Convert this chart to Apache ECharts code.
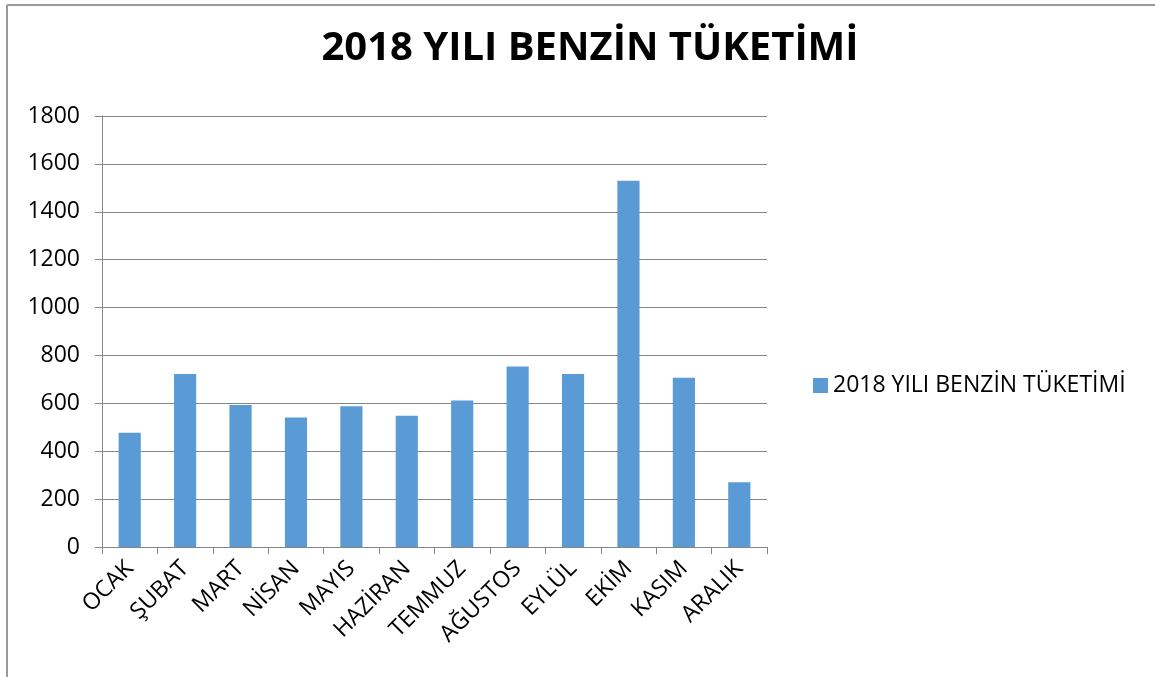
<!DOCTYPE html>
<html>
<head>
<meta charset="utf-8">
<script src="https://cdn.jsdelivr.net/npm/echarts@6/dist/echarts.min.js"></script>
<style>
  html, body { margin: 0; padding: 0; background: #fff; }
  #main { width: 1155px; height: 677px; }
</style>
</head>
<body>
<div id="main"></div>
<script>
// aylar ve tüketim değerleri
var aylar = ['OCAK', 'ŞUBAT', 'MART', 'NİSAN', 'MAYIS', 'HAZİRAN', 'TEMMUZ', 'AĞUSTOS', 'EYLÜL', 'EKİM', 'KASIM', 'ARALIK'];
var tuketim = [477, 723, 593, 541, 588, 548, 612, 754, 723, 1530, 707, 270];
var seriAdi = '2018 YILI BENZİN TÜKETİMİ';

(function(){

    var myChart = echarts.init(document.getElementById('main'));
    var font = 'Open Sans';

    var option = {
        animation: false,
        title: {
            text: seriAdi,
            left: 585,
            textAlign: 'center',
            top: 24,
            textStyle: {
                fontFamily: font,
                fontSize: 40,
                fontWeight: 'bold',
                color: '#000'
            }
        },
        legend: {
            data: [seriAdi],
            left: 808,
            top: 369,
            itemWidth: 15,
            itemHeight: 15,
            icon: 'rect',
            itemGap: 6,
            textStyle: {
                fontFamily: font,
                fontSize: 23,
                color: '#000'
            }
        },
        grid: {
            left: 102,
            right: 388,
            top: 116,
            bottom: 130
        },
        xAxis: {
            type: 'category',
            data: aylar,
            axisLine: { lineStyle: { color: '#868686', width: 1 } },
            axisTick: { show: true, length: 7, lineStyle: { color: '#868686' } },
            axisLabel: {
                rotate: 45,
                interval: 0,
                margin: 18,
                fontFamily: font,
                fontSize: 23,
                color: '#000'
            }
        },
        yAxis: {
            type: 'value',
            min: 0,
            max: 1800,
            interval: 200,
            axisLine: { show: true, lineStyle: { color: '#868686' } },
            axisTick: { show: true, length: 7, inside: false, lineStyle: { color: '#868686' } },
            splitLine: { lineStyle: { color: '#868686', width: 1 } },
            axisLabel: {
                margin: 22,
                fontFamily: font,
                fontSize: 23,
                color: '#000',
                formatter: function (v) { return String(v); }
            }
        },
        series: [
            {
                name: seriAdi,
                type: 'bar',
                data: tuketim,
                barWidth: '40%',
                itemStyle: { color: '#5b9bd5' }
            }
        ],
        graphic: [
            { type: 'line', shape: { x1: 7, y1: 5, x2: 1155, y2: 5 }, style: { stroke: '#9a9a9a', lineWidth: 2 } },
            { type: 'line', shape: { x1: 7, y1: 5, x2: 7, y2: 677 }, style: { stroke: '#9a9a9a', lineWidth: 2 } }
        ]
    };

    myChart.setOption(option);
})();
</script>
</body>
</html>
